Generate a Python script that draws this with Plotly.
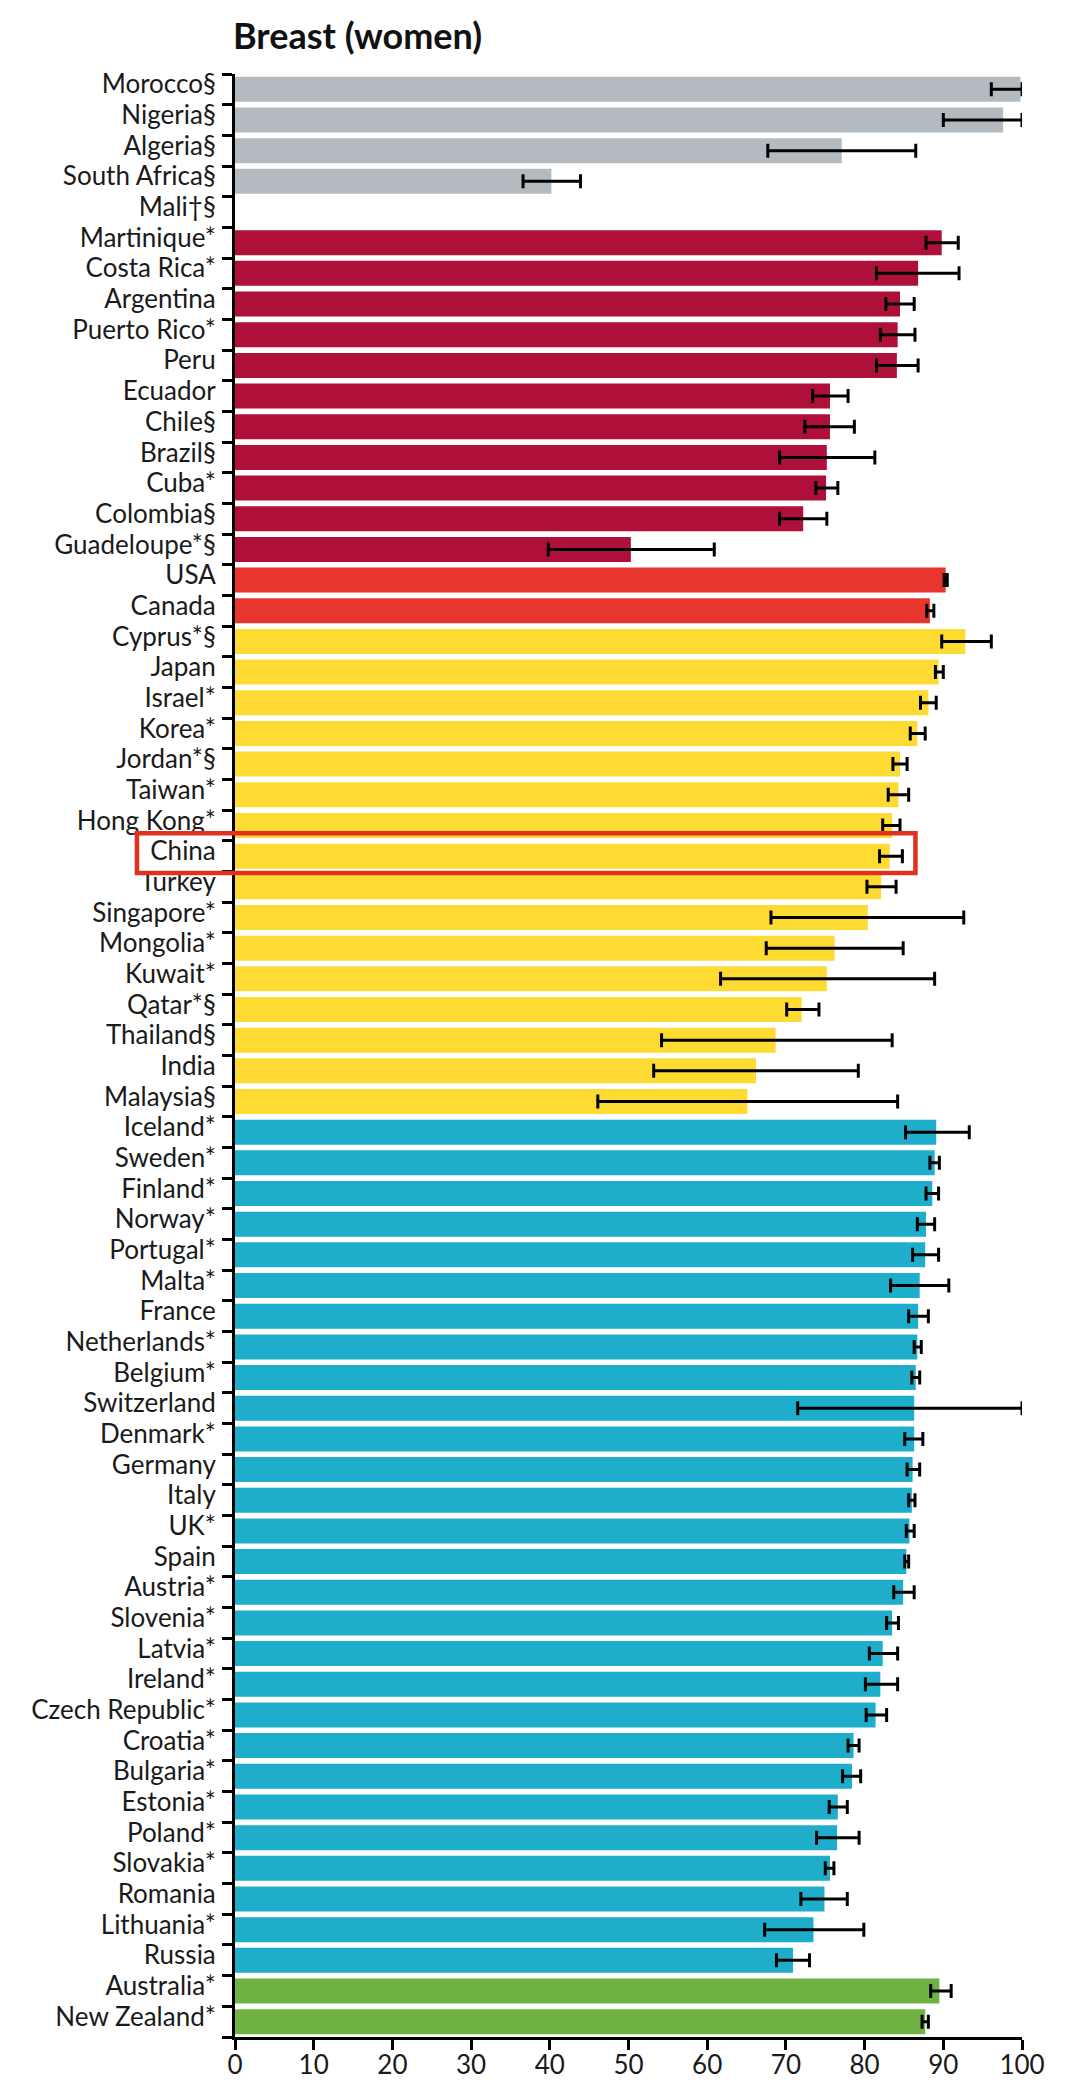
import plotly.graph_objects as go

# ---- data ----
countries = [
    "Morocco§", "Nigeria§", "Algeria§", "South Africa§", "Mali†§",
    "Martinique*", "Costa Rica*", "Argentina", "Puerto Rico*", "Peru", "Ecuador",
    "Chile§", "Brazil§", "Cuba*", "Colombia§", "Guadeloupe*§",
    "USA", "Canada",
    "Cyprus*§", "Japan", "Israel*", "Korea*", "Jordan*§", "Taiwan*", "Hong Kong*",
    "China", "Turkey", "Singapore*", "Mongolia*", "Kuwait*", "Qatar*§", "Thailand§",
    "India", "Malaysia§",
    "Iceland*", "Sweden*", "Finland*", "Norway*", "Portugal*", "Malta*", "France",
    "Netherlands*", "Belgium*", "Switzerland", "Denmark*", "Germany", "Italy", "UK*",
    "Spain", "Austria*", "Slovenia*", "Latvia*", "Ireland*", "Czech Republic*",
    "Croatia*", "Bulgaria*", "Estonia*", "Poland*", "Slovakia*", "Romania",
    "Lithuania*", "Russia",
    "Australia*", "New Zealand*",
]

regions = (["Africa"] * 5 + ["Central and South America"] * 11 + ["North America"] * 2
           + ["Asia"] * 16 + ["Europe"] * 28 + ["Oceania"] * 2)

survival = [
    99.8, 97.6, 77.1, 40.2, None,
    89.8, 86.8, 84.5, 84.2, 84.1, 75.6, 75.6, 75.2, 75.1, 72.2, 50.3,
    90.3, 88.3,
    92.8, 89.4, 88.1, 86.7, 84.5, 84.3, 83.5, 83.2, 82.1, 80.4, 76.2, 75.2, 72.0,
    68.7, 66.2, 65.1,
    89.1, 88.9, 88.6, 87.8, 87.7, 87.0, 86.8, 86.7, 86.5, 86.3, 86.3, 86.1, 86.0,
    85.7, 85.3, 84.9, 83.5, 82.3, 82.0, 81.4, 78.6, 78.4, 76.6, 76.5, 75.6, 74.9,
    73.5, 70.9,
    89.5, 87.7,
]

ci_low = [
    96.1, 90.0, 67.7, 36.6, None,
    87.8, 81.5, 82.7, 82.0, 81.5, 73.4, 72.4, 69.2, 73.8, 69.2, 39.8,
    90.1, 87.9,
    89.8, 89.0, 87.1, 85.8, 83.6, 83.0, 82.3, 81.9, 80.3, 68.1, 67.5, 61.7, 70.1,
    54.2, 53.2, 46.1,
    85.2, 88.3, 87.8, 86.7, 86.1, 83.3, 85.6, 86.3, 86.0, 71.5, 85.1, 85.4, 85.6,
    85.3, 85.1, 83.7, 82.8, 80.6, 80.1, 80.2, 77.9, 77.2, 75.5, 73.9, 75.0, 71.9,
    67.3, 68.8,
    88.4, 87.3,
]

ci_high = [
    100.0, 100.0, 86.5, 43.9, None,
    91.9, 92.0, 86.3, 86.4, 86.8, 77.9, 78.7, 81.3, 76.6, 75.2, 60.9,
    90.5, 88.8,
    96.1, 90.0, 89.1, 87.7, 85.4, 85.6, 84.5, 84.8, 84.0, 92.6, 84.9, 88.9, 74.2,
    83.5, 79.2, 84.2,
    93.3, 89.5, 89.4, 88.9, 89.4, 90.7, 88.1, 87.2, 87.0, 100.0, 87.4, 87.0, 86.4,
    86.3, 85.6, 86.3, 84.3, 84.2, 84.2, 82.8, 79.3, 79.5, 77.8, 79.3, 76.1, 77.8,
    79.9, 73.0,
    91.0, 88.1,
]

x_ticks = [0, 10, 20, 30, 40, 50, 60, 70, 80, 90, 100]
highlight = "China"

# ---- styling ----
region_colors = {
    "Africa": "#b3bbc0",
    "Central and South America": "#ae1039",
    "North America": "#e8352d",
    "Asia": "#fddb33",
    "Europe": "#1eadca",
    "Oceania": "#70b244",
}
FONT = "Lato"
W, H = 1080, 2082

colors = [region_colors[r] for r in regions]
err_plus = [None if v is None else round(h - v, 2) for v, h in zip(survival, ci_high)]
err_minus = [None if v is None else round(v - l, 2) for v, l in zip(survival, ci_low)]

n = len(countries)

fig = go.Figure(
    go.Bar(
        y=countries,
        x=survival,
        orientation="h",
        marker=dict(color=colors, line=dict(width=0)),
        error_x=dict(
            type="data",
            symmetric=False,
            array=err_plus,
            arrayminus=err_minus,
            color="black",
            thickness=3,
            width=7,
        ),
        cliponaxis=False,
        hoverinfo="x+y",
    )
)

fig.update_layout(
    template="none",
    width=W,
    height=H,
    margin=dict(l=235, r=58, t=74, b=45, pad=0),
    paper_bgcolor="white",
    plot_bgcolor="white",
    bargap=0.185,
    showlegend=False,
    font=dict(family=FONT, color="#1a1a1a"),
    title=dict(
        text="<b>Breast (women)</b>",
        font=dict(family=FONT, size=36, color="#111111"),
        x=233 / W,
        xref="container",
        xanchor="left",
        y=1 - 36 / H,
        yref="container",
        yanchor="middle",
    ),
)

fig.update_yaxes(
    type="category",
    range=[n - 0.5, -0.5],
    tickmode="array",
    tickvals=countries,
    ticktext=countries,
    tickson="boundaries",
    ticks="outside",
    ticklen=10,
    tickwidth=3,
    tickcolor="black",
    showline=True,
    linewidth=3,
    linecolor="black",
    showgrid=False,
    zeroline=False,
    automargin=False,
    tickfont=dict(family=FONT, size=26, color="#1a1a1a"),
    ticklabelstandoff=11,
    ticklabelshift=5,
)

fig.update_xaxes(
    range=[x_ticks[0], x_ticks[-1]],
    tickmode="array",
    tickvals=x_ticks,
    ticktext=[str(t) for t in x_ticks],
    ticks="outside",
    ticklen=10,
    tickwidth=3,
    tickcolor="black",
    showline=True,
    linewidth=3,
    linecolor="black",
    showgrid=False,
    zeroline=False,
    automargin=False,
    tickfont=dict(family=FONT, size=26, color="#1a1a1a"),
    ticklabelstandoff=-7,
)

# red highlight box around China
idx = countries.index(highlight)
xr = x_ticks[-1] - x_ticks[0]
top_d = idx - 0.5 - 0.25
bot_d = idx + 0.5 + 0.05
fig.add_shape(
    type="rect",
    xref="paper",
    yref="paper",
    x0=-0.1246,
    x1=(86.46 - x_ticks[0]) / xr,
    y0=1 - (top_d + 0.5) / n,
    y1=1 - (bot_d + 0.5) / n,
    line=dict(color="#e0301e", width=4.5),
    fillcolor="rgba(0,0,0,0)",
    layer="above",
)

fig.write_html(
    "out.html",
    config={"displayModeBar": False},
    post_script="document.body.style.margin='0px';document.body.style.overflow='hidden';",
)
